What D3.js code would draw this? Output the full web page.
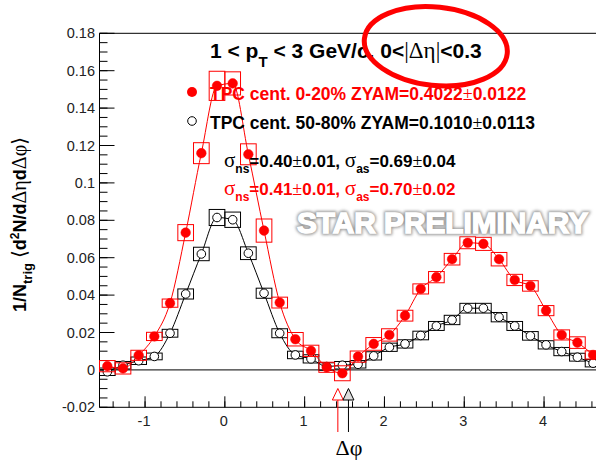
<!DOCTYPE html>
<html>
<head>
<meta charset="utf-8">
<script src="https://cdn.jsdelivr.net/npm/d3@7"></script>
<style>
  html, body { margin: 0; padding: 0; background: #fff; }
  svg { display: block; }
  text { font-family: "Liberation Sans", Arial, Helvetica, sans-serif; }
  .sym { font-family: "Liberation Serif", "DejaVu Serif", serif; font-weight: normal; }
</style>
</head>
<body>
<svg id="chart" width="596" height="461"></svg>
<script>
// Δφ bin centres (32 bins over [-π/2, 3π/2])
const dphi = [-1.4726, -1.2763, -1.0799, -0.8836, -0.6872, -0.4909, -0.2945, -0.0982,
               0.0982,  0.2945,  0.4909,  0.6872,  0.8836,  1.0799,  1.2763,  1.4726,
               1.6690,  1.8653,  2.0617,  2.2580,  2.4544,  2.6507,  2.8471,  3.0434,
               3.2398,  3.4361,  3.6325,  3.8288,  4.0252,  4.2215,  4.4179,  4.6142];
const binHalfWidth = 0.0982;

// TPC cent. 0-20%
const central = [0.0020, 0.0008, 0.0078, 0.0179, 0.0357, 0.0734, 0.1159, 0.1519,
                 0.1532, 0.1153, 0.0745, 0.0360, 0.0164, 0.0102, 0.0014, -0.0018,
                 0.0071, 0.0139, 0.0187, 0.0290, 0.0433, 0.0496, 0.0592, 0.0680,
                 0.0674, 0.0592, 0.0481, 0.0449, 0.0317, 0.0187, 0.0146, 0.0080];
const centralSys = [0.0030, 0.0030, 0.0027, 0.0022, 0.0022, 0.0043, 0.0056, 0.0078,
                    0.0062, 0.0056, 0.0062, 0.0029, 0.0036, 0.0030, 0.0027, 0.0040,
                    0.0030, 0.0034, 0.0033, 0.0029, 0.0027, 0.0030, 0.0031, 0.0032,
                    0.0035, 0.0036, 0.0030, 0.0028, 0.0027, 0.0027, 0.0031, 0.0022];

// TPC cent. 50-80%
const peripheral = [-0.0010, 0.0025, 0.0049, 0.0072, 0.0196, 0.0406, 0.0620, 0.0815,
                     0.0803, 0.0624, 0.0410, 0.0196, 0.0080, 0.0059, 0.0018, 0.0025,
                     0.0030, 0.0075, 0.0121, 0.0139, 0.0184, 0.0235, 0.0267, 0.0330,
                     0.0330, 0.0282, 0.0235, 0.0182, 0.0134, 0.0098, 0.0068, 0.0036];
const peripheralSys = [0.0020, 0.0020, 0.0020, 0.0018, 0.0021, 0.0027, 0.0036, 0.0043,
                       0.0041, 0.0034, 0.0027, 0.0024, 0.0020, 0.0022, 0.0020, 0.0020,
                       0.0020, 0.0022, 0.0022, 0.0022, 0.0023, 0.0024, 0.0025, 0.0026,
                       0.0026, 0.0025, 0.0024, 0.0023, 0.0022, 0.0022, 0.0021, 0.0020];

// ZYAM normalisation points (Δφ of the minimum), central then peripheral
const zyamPos = [1.416, 1.549];

const xTickValues = [-1, 0, 1, 2, 3, 4];
const yTickValues = [-0.02, 0, 0.02, 0.04, 0.06, 0.08, 0.1, 0.12, 0.14, 0.16, 0.18];
const yTickLabels = ["-0.02", "0", "0.02", "0.04", "0.06", "0.08", "0.1", "0.12", "0.14", "0.16", "0.18"];

const RED = "#ff0000";
const svg = d3.select("#chart");
svg.append("rect").attr("width", 596).attr("height", 461).attr("fill", "#fff");

const x = d3.scaleLinear().domain([-Math.PI / 2, 3 * Math.PI / 2]).range([99.5, 600.9]);
const y = d3.scaleLinear().domain([-0.02, 0.18]).range([407.3, 33.3]);

const plot = svg.append("g");

// frame
plot.append("line").attr("x1", x.range()[0]).attr("x2", 600).attr("y1", y(0.18)).attr("y2", y(0.18))
  .attr("stroke", "#000").attr("stroke-width", 1);

// zero line
plot.append("line").attr("x1", x.range()[0]).attr("x2", 600).attr("y1", y(0)).attr("y2", y(0))
  .attr("stroke", "#333").attr("stroke-width", 1.2);

// Y axis: ticks point into the frame
const yMinor = d3.range(-0.02, 0.1801, 0.005);
const yAxis = plot.append("g");
yAxis.append("line").attr("x1", x.range()[0]).attr("x2", x.range()[0]).attr("y1", y(-0.02)).attr("y2", y(0.18))
  .attr("stroke", "#000");
yAxis.selectAll("line.minor").data(yMinor).join("line").attr("class", "minor")
  .attr("x1", x.range()[0]).attr("x2", x.range()[0] + 8)
  .attr("y1", d => y(d)).attr("y2", d => y(d)).attr("stroke", "#000");
yAxis.selectAll("line.major").data(yTickValues).join("line").attr("class", "major")
  .attr("x1", x.range()[0]).attr("x2", x.range()[0] + 15)
  .attr("y1", d => y(d)).attr("y2", d => y(d)).attr("stroke", "#000");
yAxis.selectAll("text").data(yTickValues).join("text")
  .attr("x", 95).attr("y", d => y(d) + 5).attr("text-anchor", "end")
  .attr("font-size", 14.5).attr("fill", "#222").text((d, i) => yTickLabels[i]);

// X axis: ticks point up into the frame
const xMinor = d3.range(-1.4, 4.71, 0.2);
const xAxis = plot.append("g");
const yb = y(-0.02);
xAxis.append("line").attr("x1", x.range()[0]).attr("x2", 600).attr("y1", yb).attr("y2", yb).attr("stroke", "#000");
xAxis.selectAll("line.minor").data(xMinor).join("line").attr("class", "minor")
  .attr("x1", d => x(d)).attr("x2", d => x(d)).attr("y1", yb).attr("y2", yb - 6).attr("stroke", "#000");
xAxis.selectAll("line.major").data(xTickValues).join("line").attr("class", "major")
  .attr("x1", d => x(d)).attr("x2", d => x(d)).attr("y1", yb).attr("y2", yb - 11).attr("stroke", "#000");
xAxis.selectAll("text").data(xTickValues).join("text")
  .attr("x", d => x(d) - 1).attr("y", yb + 19).attr("text-anchor", "middle")
  .attr("font-size", 14.5).attr("fill", "#222").text(d => d);

// one series: lines through points, systematic boxes, markers
function drawSeries(vals, sys, color, filled) {
  const g = plot.append("g");
  const pts = dphi.map((d, i) => [d, vals[i]]);
  g.append("path").datum(pts)
    .attr("fill", "none").attr("stroke", color).attr("stroke-width", 1)
    .attr("d", d3.line().x(d => x(d[0])).y(d => y(d[1])).curve(d3.curveMonotoneX));
  g.selectAll("rect").data(pts).join("rect")
    .attr("x", d => x(d[0] - binHalfWidth))
    .attr("width", d => x(d[0] + binHalfWidth) - x(d[0] - binHalfWidth))
    .attr("y", (d, i) => y(d[1] + sys[i]))
    .attr("height", (d, i) => y(d[1] - sys[i]) - y(d[1] + sys[i]))
    .attr("fill", "none").attr("stroke", color).attr("stroke-width", 1);
  g.selectAll("circle").data(pts).join("circle")
    .attr("cx", d => x(d[0])).attr("cy", d => y(d[1])).attr("r", filled ? 4.8 : 4.3)
    .attr("fill", filled ? color : "#fff").attr("stroke", color).attr("stroke-width", filled ? 0.5 : 1);
}
drawSeries(peripheral, peripheralSys, "#000", false);
drawSeries(central, centralSys, RED, true);

// ZYAM markers below the axis
const zyamColors = [RED, "#000"];
const zyamFills = ["#fff", "#ddd"];
zyamPos.forEach((p, i) => {
  const cx = x(p);
  svg.append("line").attr("x1", cx).attr("x2", cx).attr("y1", 399).attr("y2", 432)
    .attr("stroke", zyamColors[i]).attr("stroke-width", 1);
  svg.append("path")
    .attr("d", `M${cx},${388.5} L${cx - 5.5},${400} L${cx + 5.5},${400} Z`)
    .attr("fill", zyamFills[i]).attr("stroke", zyamColors[i]).attr("stroke-width", 1);
});

// Title
const title = svg.append("text").attr("x", 210).attr("y", 58).attr("font-size", 21).attr("font-weight", "bold").attr("fill", "#000");
title.append("tspan").text("1 < p");
title.append("tspan").attr("font-size", 15).attr("dy", 9).text("T");
title.append("tspan").attr("dy", -9).text(" < 3 GeV/c, 0<");
title.append("tspan").attr("class", "sym").attr("font-size", 23).text("|Δη|");
title.append("tspan").text("<0.3");

// Legend
svg.append("circle").attr("cx", 192).attr("cy", 92).attr("r", 5).attr("fill", RED);
svg.append("circle").attr("cx", 192).attr("cy", 121).attr("r", 4.3).attr("fill", "#fff").attr("stroke", "#000");
function legendText(yy, color, main, a, b) {
  const t = svg.append("text").attr("x", 210).attr("y", yy).attr("font-size", 17.5).attr("font-weight", "bold").attr("fill", color);
  t.append("tspan").text(main + a);
  t.append("tspan").attr("class", "sym").attr("font-size", 18).text("±");
  t.append("tspan").text(b);
}
legendText(99.5, RED, "TPC cent. 0-20% ZYAM=", "0.4022", "0.0122");
legendText(128.5, "#000", "TPC cent. 50-80% ZYAM=", "0.1010", "0.0113");

// Gaussian widths
function sigmaText(yy, color, ns, nsErr, as, asErr) {
  const t = svg.append("text").attr("x", 224).attr("y", yy).attr("font-size", 17).attr("font-weight", "bold").attr("fill", color);
  t.append("tspan").attr("class", "sym").attr("font-size", 21).text("σ");
  t.append("tspan").attr("font-size", 12).attr("dy", 6).text("ns");
  t.append("tspan").attr("dy", -6).text("=" + ns);
  t.append("tspan").attr("class", "sym").attr("font-size", 18).text("±");
  t.append("tspan").text(nsErr + ", ");
  t.append("tspan").attr("class", "sym").attr("font-size", 21).text("σ");
  t.append("tspan").attr("font-size", 12).attr("dy", 6).text("as");
  t.append("tspan").attr("dy", -6).text("=" + as);
  t.append("tspan").attr("class", "sym").attr("font-size", 18).text("±");
  t.append("tspan").text(asErr);
}
sigmaText(166.5, "#000", "0.40", "0.01", "0.69", "0.04");
sigmaText(195, RED, "0.41", "0.01", "0.70", "0.02");

// STAR PRELIMINARY watermark
const defs = svg.append("defs");
defs.append("filter").attr("id", "soft").append("feGaussianBlur").attr("stdDeviation", 1.5);
const wm = svg.append("g").attr("font-size", 30).attr("font-weight", "bold");
wm.append("text").attr("x", 297).attr("y", 233)
  .attr("textLength", 291).attr("lengthAdjust", "spacingAndGlyphs")
  .attr("fill", "#999").attr("stroke", "#999").attr("stroke-width", 4).attr("filter", "url(#soft)")
  .text("STAR PRELIMINARY");
wm.append("text").attr("x", 297).attr("y", 233)
  .attr("textLength", 291).attr("lengthAdjust", "spacingAndGlyphs")
  .attr("fill", "#fff").attr("stroke", "#fff").attr("stroke-width", 1.5)
  .text("STAR PRELIMINARY");

// Axis titles
const yl = svg.append("text").attr("transform", "translate(26,312) rotate(-90)")
  .attr("font-size", 18).attr("font-weight", "bold").attr("fill", "#000");
yl.append("tspan").text("1/N");
yl.append("tspan").attr("font-size", 13).attr("dy", 6).text("trig");
yl.append("tspan").attr("dy", -6).text(" ");
yl.append("tspan").attr("class", "sym").attr("font-size", 20).text("⟨");
yl.append("tspan").text("d");
yl.append("tspan").attr("font-size", 12).attr("dy", -7).text("2");
yl.append("tspan").attr("dy", 7).text("N/d");
yl.append("tspan").attr("class", "sym").attr("font-size", 20).text("Δη");
yl.append("tspan").text("d");
yl.append("tspan").attr("class", "sym").attr("font-size", 20).text("Δφ⟩");

svg.append("text").attr("class", "sym").attr("x", 349).attr("y", 455).attr("text-anchor", "middle")
  .attr("font-size", 22).attr("fill", "#000").text("Δφ");

// highlight ellipse
svg.append("ellipse").attr("cx", 0).attr("cy", 0).attr("rx", 71.8).attr("ry", 39.2)
  .attr("transform", "translate(435.8,46.2) rotate(6)")
  .attr("fill", "none").attr("stroke", RED).attr("stroke-width", 5);
</script>
</body>
</html>
